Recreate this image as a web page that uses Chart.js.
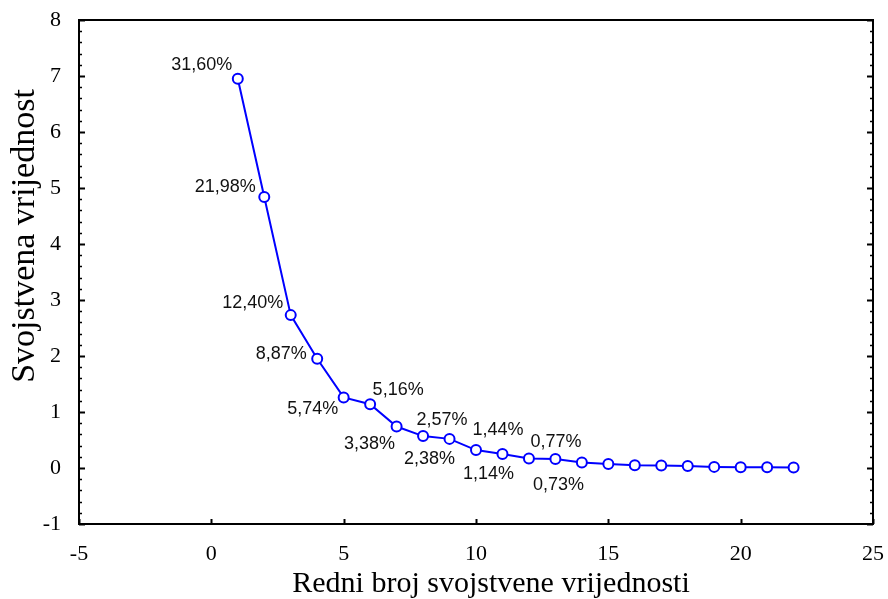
<!DOCTYPE html>
<html>
<head>
<meta charset="utf-8">
<script src="https://cdn.jsdelivr.net/npm/chart.js@4"></script>
<style>
  html, body { margin: 0; padding: 0; background: #fff; }
  canvas { display: block; }
</style>
</head>
<body>
<canvas id="scree_canvas" width="888" height="599"></canvas>
<script>
// redni broj komponente i svojstvene vrijednosti (ocitano sa slike)
const components = [1, 2, 3, 4, 5, 6, 7, 8, 9, 10, 11, 12, 13, 14, 15, 16, 17, 18, 19, 20, 21, 22];
const eigenvalues = [6.95, 4.84, 2.73, 1.95, 1.26, 1.14, 0.74, 0.57, 0.52, 0.32, 0.25, 0.17, 0.16,
                     0.10, 0.07, 0.05, 0.045, 0.035, 0.02, 0.015, 0.012, 0.01];
const pctLabels = ["31,60%", "21,98%", "12,40%", "8,87%", "5,74%", "5,16%", "3,38%",
                   "2,57%", "2,38%", "1,44%", "1,14%", "0,77%", "0,73%"];
const xTicks = [-5, 0, 5, 10, 15, 20, 25];
const yTicks = [-1, 0, 1, 2, 3, 4, 5, 6, 7, 8];

const serif = '"Liberation Serif", "Times New Roman", serif';
const sans = '"Liberation Sans", Arial, sans-serif';

// pomaci natpisa od tocke (sredina teksta)
const labelShift = [[-36, -14], [-39, -10], [-38, -12], [-36, -5], [-31, 12], [28, -14], [-27, 17],
                    [19, -16], [-20, 20], [22, -20], [-14, 20], [27, -16], [3, 26]];

const framePlugin = {
  id: "frame",
  afterDraw(chart) {
    const ctx = chart.ctx;
    const a = chart.chartArea;
    const x = chart.scales.x, y = chart.scales.y;
    ctx.save();
    ctx.strokeStyle = "#000";
    ctx.lineWidth = 2;
    ctx.strokeRect(a.left, a.top, a.right - a.left, a.bottom - a.top);

    // y ticks, left and right, inward, with minors
    for (let v = -1; v <= 8.0001; v += 0.2) {
      const py = Math.round(y.getPixelForValue(v)) + 0.5;
      const major = Math.abs(v - Math.round(v)) < 0.01;
      const len = major ? 6 : 3;
      ctx.lineWidth = major ? 2 : 1.5;
      ctx.beginPath();
      ctx.moveTo(a.left, py); ctx.lineTo(a.left + len, py);
      ctx.moveTo(a.right, py); ctx.lineTo(a.right - len, py);
      ctx.stroke();
    }
    // x ticks bottom
    ctx.lineWidth = 2;
    xTicks.forEach(v => {
      const px = Math.round(x.getPixelForValue(v)) + 0.5;
      ctx.beginPath();
      ctx.moveTo(px, a.bottom); ctx.lineTo(px, a.bottom - 5);
      ctx.stroke();
    });

    // axis titles
    ctx.fillStyle = "#000";
    ctx.font = "30px " + serif;
    ctx.textAlign = "center";
    ctx.textBaseline = "alphabetic";
    ctx.fillText("Redni broj svojstvene vrijednosti", 491, 592);
    ctx.save();
    ctx.translate(34, 236);
    ctx.rotate(-Math.PI / 2);
    ctx.font = "34px " + serif;
    ctx.fillText("Svojstvena vrijednost", 0, 0);
    ctx.restore();

    // percentage labels
    const meta = chart.getDatasetMeta(0);
    ctx.font = "18px " + sans;
    ctx.fillStyle = "#111";
    ctx.textBaseline = "middle";
    pctLabels.forEach((t, i) => {
      const p = meta.data[i];
      ctx.fillText(t, p.x + labelShift[i][0], p.y + labelShift[i][1]);
    });
    ctx.restore();
  }
};

const context = document.getElementById("scree_canvas").getContext("2d");

const chart = new Chart(context, {
  type: "line",
  data: {
    datasets: [{
      data: components.map((c, i) => ({ x: c, y: eigenvalues[i] })),
      borderColor: "#0000ff",
      borderWidth: 2,
      pointRadius: 5,
      pointBorderWidth: 2,
      pointBorderColor: "#0000ff",
      pointBackgroundColor: "#ffffff",
      tension: 0
    }]
  },
  options: {
    responsive: false,
    animation: false,
    layout: { padding: { top: 20, right: 15, left: 0, bottom: 0 } },
    plugins: { legend: { display: false }, tooltip: { enabled: false } },
    scales: {
      x: {
        type: "linear",
        min: -5, max: 25,
        afterBuildTicks: s => { s.ticks = xTicks.map(v => ({ value: v })); },
        afterFit: s => { s.height = 75; s.paddingLeft = 0; s.paddingRight = 0; },
        ticks: { color: "#000", padding: 9, font: { family: serif, size: 22 }, maxRotation: 0 },
        grid: { display: false },
        border: { display: false }
      },
      y: {
        type: "linear",
        min: -1, max: 8,
        afterBuildTicks: s => { s.ticks = yTicks.map(v => ({ value: v })); },
        afterFit: s => { s.width = 79; s.paddingTop = 0; s.paddingBottom = 0; },
        ticks: { color: "#000", padding: 10, font: { family: serif, size: 22 } },
        grid: { display: false },
        border: { display: false }
      }
    }
  },
  plugins: [framePlugin]
});
</script>
</body>
</html>
